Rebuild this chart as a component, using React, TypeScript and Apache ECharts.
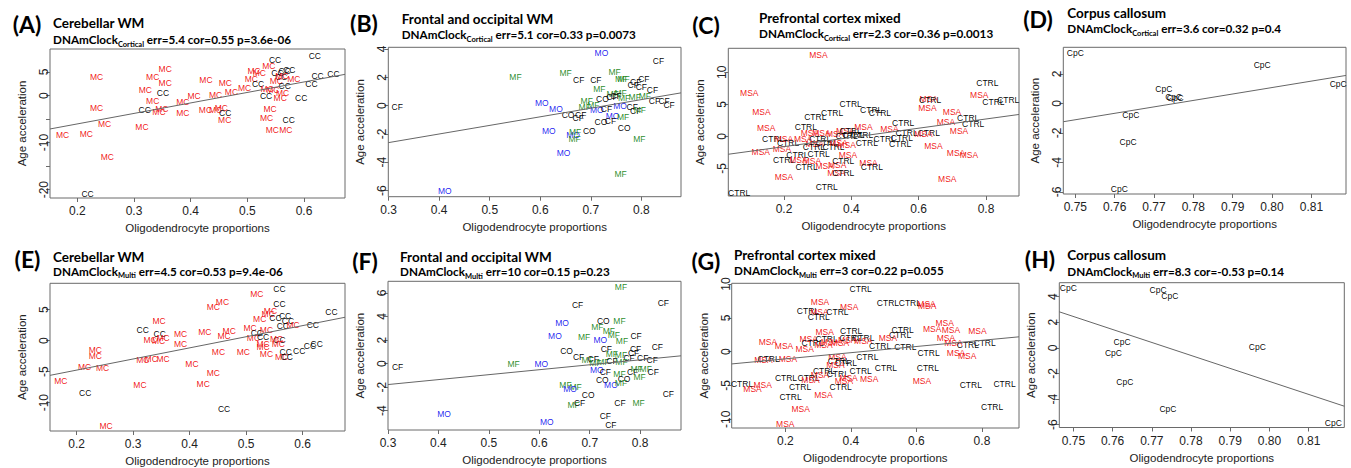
import { useEffect, useRef } from "react";
import * as echarts from "echarts";

// ---------------- Panel A: Cerebellar WM (Cortical clock) ----------------
const aLab = [
  "MC","MC","MC","MC","MC","MC","CC","MC","MC","MC",
  "MC","MC","CC","MC","CC","MC","MC","MC","MC","MC",
  "MC","MC","MC","MC","CC","MC","MC","MC","MC","MC",
  "MC","MC","MC","CC","MC","CC","CC","CC","CC","CC",
  "MC","MC","MC","CC","MC","MC","MC","MC","CC","MC",
  "MC","CC","MC","MC","CC","CC","CC","CC","CC"];
const aX = [
  .234,.174,.216,.234,.248,.253,.218,.314,.320,.333,
  .355,.355,.351,.333,.319,.349,.344,.386,.406,.386,
  .427,.426,.444,.454,.461,.444,.461,.460,.472,.495,
  .512,.521,.507,.519,.538,.549,.553,.574,.566,.560,
  .551,.535,.545,.533,.540,.534,.544,.568,.573,.558,
  .562,.566,.561,.582,.595,.619,.624,.613,.652];
const aY = [
  3.9,-8.4,-8.2,-2.7,-6.1,-13.0,-20.9,-6.6,1.2,4.0,
  5.7,2.6,0.5,-1.1,-3.0,-2.8,-3.6,-1.3,-0.1,-3.8,
  3.3,-3.0,-3.0,-2.7,-3.8,0.1,2.6,-5.2,0.8,1.5,
  5.2,4.8,3.5,2.5,6.2,7.5,4.8,5.5,5.3,4.0,
  3.0,1.4,1.2,-0.1,-2.8,-4.8,-7.4,-7.4,-5.3,-0.6,
  0.6,2.1,4.2,3.6,-0.6,8.4,4.2,2.5,4.6];

// ---------------- Panel B: Frontal and occipital WM (Cortical) ----------------
const bLab = [
  "MO","CF","MF","MF","CF","CF","MF","MF","MF","CF",
  "CF","CF","CF","CF","MF","MF","MF","CF","MF","MF",
  "MF","CF","CF","CF","CF","MO","MO","MF","MF","CO",
  "CF","MF","MO","CF","MO","CF","CF","MF","CO","CF",
  "CF","MO","MF","CO","CF","CO","CO","MO","MO","MF",
  "MF","MF","MO","MF","MO"];
const bX = [
  .721,.834,.551,.650,.676,.710,.747,.760,.765,.784,
  .805,.789,.800,.822,.717,.743,.759,.750,.766,.787,
  .807,.826,.845,.855,.317,.603,.631,.692,.688,.723,
  .742,.705,.712,.731,.758,.782,.789,.797,.655,.680,
  .675,.743,.764,.720,.739,.766,.697,.617,.665,.669,
  .668,.796,.646,.759,.411];
const bY = [
  3.74,3.13,2.02,2.28,1.81,1.81,2.38,1.90,1.88,1.44,
  1.90,1.67,1.29,1.10,1.15,0.82,0.92,0.68,0.54,0.64,
  0.68,0.33,0.35,0.07,-0.12,0.16,-0.21,0.33,-0.07,0.49,
  0.62,0.02,-0.31,-0.26,-0.02,-0.07,-0.40,-0.33,-0.68,-0.68,
  -0.87,-0.73,-0.78,-1.15,-1.06,-1.55,-1.79,-1.79,-2.05,-1.86,
  -2.38,-2.33,-3.32,-4.82,-6.05];

// ---------------- Panel C: Prefrontal cortex mixed (Cortical) ----------------
const cLab = [
  "MSA","MSA","MSA","MSA","MSA","CTRL","CTRL","MSA","CTRL","MSA",
  "CTRL","MSA","CTRL","MSA","CTRL","CTRL","CTRL","MSA","MSA","MSA",
  "CTRL","CTRL","MSA","CTRL","CTRL","MSA","MSA","MSA","MSA","CTRL",
  "CTRL","CTRL","MSA","CTRL","CTRL","CTRL","MSA","CTRL","MSA","MSA",
  "CTRL","MSA","CTRL","MSA","CTRL","MSA","CTRL","CTRL","CTRL","CTRL",
  "MSA","CTRL","CTRL","CTRL","CTRL","CTRL","MSA","CTRL","MSA","CTRL",
  "MSA","MSA","MSA","MSA","MSA","CTRL","CTRL","MSA","MSA","MSA",
  "CTRL","MSA","CTRL","CTRL"];
const cX = [
  .302,.097,.133,.147,.131,.067,.168,.200,.212,.194,
  .200,.200,.240,.243,.265,.293,.343,.257,.277,.311,
  .307,.327,.291,.289,.347,.352,.362,.386,.382,.398,
  .406,.386,.436,.432,.446,.303,.283,.267,.321,.358,
  .376,.390,.327,.356,.376,.451,.461,.398,.459,.485,
  .513,.554,.564,.499,.550,.545,.630,.634,.626,.630,
  .614,.644,.699,.681,.720,.747,.762,.685,.711,.749,
  .804,.780,.822,.866];
const cY = [
  12.7,6.8,3.75,1.3,-2.4,-8.8,-0.47,-0.47,-1.1,-2.0,
  -3.7,-6.3,-2.86,-3.7,1.4,2.97,3.6,-0.47,0.47,0.57,
  -0.47,-1.0,-1.2,-1.7,-1.6,0.36,-1.1,-1.3,0.78,0.78,
  0.26,0.05,1.5,0.2,-1.1,-2.76,-3.9,-4.74,-4.6,-4.4,
  -3.85,-2.86,-7.86,-5.7,-5.8,-4.2,-4.74,5.05,4.1,3.6,
  1.2,2.1,0.57,-0.36,-0.26,-1.2,5.9,5.6,4.5,0.57,
  0.36,-1.5,3.8,2.3,0.78,2.86,1.9,-6.7,-2.66,-2.97,
  8.3,6.46,5.36,5.7];

// ---------------- Panel D: Corpus callosum (Cortical) ----------------
const dLab = ["CpC","CpC","CpC","CpC","CpC","CpC","CpC","CpC","CpC"];
const dX = [.7500,.7975,.8168,.7725,.7750,.7754,.7641,.7634,.7612];
const dY = [3.39,2.64,1.31,0.99,0.45,0.40,-0.79,-2.60,-5.79];

// ---------------- Panel E: Cerebellar WM (Multi clock) ----------------
const eLab = [
  "MC","MC","CC","MC","MC","MC","MC","MC","CC","MC",
  "MC","MC","MC","MC","MC","CC","MC","MC","MC","MC",
  "MC","MC","MC","MC","MC","MC","MC","MC","CC","MC",
  "MC","MC","CC","CC","MC","MC","MC","MC","MC","MC",
  "MC","MC","CC","CC","CC","CC","CC","CC","MC","CC",
  "MC","MC","CC","MC","CC","CC","CC","CC","CC","CC"];
const eX = [
  .172,.214,.215,.233,.233,.246,.252,.312,.317,.317,
  .332,.353,.346,.330,.345,.347,.353,.384,.384,.404,
  .427,.424,.442,.458,.451,.442,.461,.470,.461,.495,
  .507,.513,.519,.530,.519,.524,.539,.543,.536,.530,
  .530,.536,.559,.559,.552,.569,.574,.565,.583,.559,
  .554,.557,.570,.563,.572,.594,.613,.625,.618,.651];
const eY = [
  -6.5,-4.2,-8.5,-1.5,-2.4,-4.4,-13.8,-7.2,1.76,-3.1,
  -2.9,-3.0,3.1,0.16,-0.05,1.1,0.48,1.1,-0.6,-3.7,
  1.4,-7.0,5.4,6.2,-1.75,-5.2,0.8,1.54,-11.1,-1.86,
  1.97,0.48,1.2,0.6,7.6,3.46,4.3,4.8,1.75,-0.5,
  -1.0,-2.2,8.35,5.9,3.67,4.0,3.1,2.3,2.5,0.16,
  0.27,-0.6,-1.86,-2.6,-2.7,-1.65,-0.9,-0.5,2.6,4.7];

// ---------------- Panel F: Frontal and occipital WM (Multi) ----------------
const fLab = [
  "MF","CF","CF","MO","CO","MF","MF","MF","MO","MF",
  "MO","MF","MF","CF","CF","CO","CF","CF","CF","CF",
  "MF","CF","MF","MF","CF","MF","MF","CF","MF","CF",
  "CF","MF","MO","CF","MO","CF","MF","CF","MF","MF",
  "CF","MF","CO","CO","MO","MF","MF","MF","MO","CO",
  "CF","MF","CF","CF","MF","CF","CF","MO","MO"];
const fX = [
  .762,.676,.846,.645,.727,.759,.715,.738,.631,.689,
  .721,.748,.764,.792,.834,.654,.733,.791,.787,.678,
  .696,.707,.711,.727,.744,.744,.762,.778,.763,.805,
  .824,.549,.604,.319,.714,.731,.759,.785,.793,.811,
  .826,.799,.725,.768,.742,.762,.652,.672,.661,.697,
  .856,.668,.680,.760,.797,.731,.742,.411,.615];
const fY = [
  6.54,4.99,5.16,3.48,3.65,3.60,3.14,2.80,2.35,2.24,
  2.00,2.40,1.90,2.35,1.44,1.10,1.22,1.22,0.88,0.60,
  0.31,0.37,0.08,0.14,0.25,0.82,0.76,0.48,0.14,0.48,
  0.31,-0.03,-0.03,-0.31,-0.54,-0.71,-0.88,-0.71,-0.42,-0.42,
  -0.71,-1.16,-1.39,-1.33,-1.78,-1.67,-1.78,-2.01,-2.18,-2.69,
  -2.58,-3.54,-3.37,-3.37,-3.31,-4.45,-5.24,-4.28,-4.96];

// ---------------- Panel G: Prefrontal cortex mixed (Multi) ----------------
const gLab = [
  "CTRL","MSA","MSA","CTRL","CTRL","MSA","MSA","CTRL","MSA","CTRL",
  "CTRL","MSA","CTRL","CTRL","CTRL","MSA","MSA","MSA","MSA","CTRL",
  "CTRL","MSA","MSA","MSA","MSA","CTRL","CTRL","MSA","MSA","CTRL",
  "CTRL","MSA","CTRL","MSA","MSA","CTRL","CTRL","MSA","CTRL","CTRL",
  "CTRL","CTRL","CTRL","CTRL","MSA","CTRL","CTRL","MSA","CTRL","MSA",
  "MSA","MSA","CTRL","MSA","MSA","CTRL","CTRL","MSA","CTRL","MSA",
  "MSA","MSA","MSA","MSA","MSA","MSA","MSA","MSA","CTRL","CTRL",
  "MSA","MSA","CTRL","CTRL","CTRL"];
const gX = [
  .430,.306,.395,.513,.580,.631,.633,.269,.304,.359,
  .302,.320,.401,.558,.550,.147,.196,.259,.271,.283,
  .326,.316,.336,.367,.389,.399,.438,.438,.513,.489,
  .566,.133,.149,.208,.359,.363,.385,.353,.450,.637,
  .635,.507,.430,.318,.306,.360,.271,.277,.202,.393,
  .379,.456,.068,.131,.100,.245,.369,.316,.216,.247,
  .200,.617,.686,.648,.705,.690,.713,.786,.757,.808,
  .721,.755,.766,.869,.831];
const gY = [
  9.2,7.4,6.65,7.2,7.2,7.1,6.75,6.06,5.86,5.86,
  5.17,2.9,3.05,3.2,2.5,1.38,0.84,0.44,1.8,1.33,
  1.92,0.94,1.43,1.23,1.72,2.0,2.0,1.63,2.0,0.84,
  0.74,-1.23,-1.13,-1.13,-0.74,-1.33,-1.72,-1.92,-0.84,-0.15,
  -2.41,-2.41,-2.9,-2.8,-3.5,-3.3,-3.9,-4.2,-3.9,-3.9,
  -4.3,-4.0,-4.8,-4.9,-5.57,-5.27,-5.27,-6.35,-6.65,-8.4,
  -10.7,-4.3,4.3,3.35,3.15,2.0,1.33,3.1,0.94,1.33,
  -0.15,-0.64,-4.97,-4.78,-8.2];

// ---------------- Panel H: Corpus callosum (Multi) ----------------
const hLab = ["CpC","CpC","CpC","CpC","CpC","CpC","CpC","CpC","CpC"];
const hX = [.7487,.7716,.7746,.7624,.7602,.7631,.7741,.7969,.8163];
const hY = [4.69,4.50,4.09,0.44,-0.44,-2.70,-4.80,0.05,-5.90];

// ---------------- regression lines: [intercept, slope] ----------------
const regA = [-10.49, 22.3];
const regB = [-4.43, 6.07];
const regC = [-3.05, 7.2];
const regD = [-33.88, 43.7];
const regE = [-8.34, 17.95];
const regF = [-3.04, 4.2];
const regG = [-1.98, 4.57];
const regH = [78.5, -101.4];

// ---------------- ticks ----------------
const xTicksAE = [0.2, 0.3, 0.4, 0.5, 0.6];
const xTicksBF = [0.3, 0.4, 0.5, 0.6, 0.7, 0.8];
const xTicksCG = [0.2, 0.4, 0.6, 0.8];
const xTicksDH = [0.75, 0.76, 0.77, 0.78, 0.79, 0.80, 0.81];
const yTicksA = [5, 0, -5, -10, -15, -20];
const yLabelsA = [5, 0, -10, -20];
const yTicksB = [4, 2, 0, -2, -4, -6];
const yTicksC = [10, 5, 0, -5];
const yTicksD = [2, 0, -2, -4, -6];
const yTicksE = [5, 0, -5, -10];
const yTicksF = [6, 4, 2, 0, -2, -4];
const yTicksG = [10, 5, 0, -5, -10];
const yTicksH = [4, 2, 0, -2, -4, -6];

// ---------------- titles ----------------
const letters = ["(A)", "(B)", "(C)", "(D)", "(E)", "(F)", "(G)", "(H)"];
const tissues = ["Cerebellar WM", "Frontal and occipital WM", "Prefrontal cortex mixed", "Corpus callosum",
  "Cerebellar WM", "Frontal and occipital WM", "Prefrontal cortex mixed", "Corpus callosum"];
const clocks = ["Cortical", "Cortical", "Cortical", "Cortical", "Multi", "Multi", "Multi", "Multi"];
const stats = [" err=5.4 cor=0.55 p=3.6e-06", " err=5.1 cor=0.33 p=0.0073", " err=2.3 cor=0.36 p=0.0013",
  " err=3.6 cor=0.32 p=0.4", " err=4.5 cor=0.53 p=9.4e-06", " err=10 cor=0.15 p=0.23",
  " err=3 cor=0.22 p=0.055", " err=8.3 cor=-0.53 p=0.14"];

const RED = "#f01010";
const BLUE = "#1a1af0";
const GREEN = "#268a26";
const BLACK = "#000000";
const colorOf = (s: string) =>
  s === "MC" || s === "MSA" ? RED : s === "MO" ? BLUE : s === "MF" ? GREEN : BLACK;

// layout: plot boxes [left, top, right, bottom], axis ranges
const panels = [
  { lab: aLab, xs: aX, ys: aY, reg: regA, box: [50, 49, 345, 198], xr: [0.1518, 0.6723], yr: [-21.77, 9.89], xt: xTicksAE, yt: yTicksA, yl: yLabelsA, dec: 1,
    letter: [27, 24], title: [53, 23], sub: [53, 39] },
  { lab: bLab, xs: bX, ys: bY, reg: regB, box: [388.3, 47.3, 681, 196.7], xr: [0.2993, 0.8785], yr: [-6.43, 4.12], xt: xTicksBF, yt: yTicksB, yl: yTicksB, dec: 1,
    letter: [364, 23], title: [401.7, 19], sub: [401.7, 34] },
  { lab: cLab, xs: cX, ys: cY, reg: regC, box: [728.3, 48.3, 1019, 196], xr: [0.0346, 0.898], yr: [-9.32, 13.75], xt: xTicksCG, yt: yTicksC, yl: yTicksC, dec: 1,
    letter: [706, 25], title: [759, 18.3], sub: [759, 33.3] },
  { lab: dLab, xs: dX, ys: dY, reg: regD, box: [1063.3, 47.3, 1346, 194], xr: [0.74695, 0.8188], yr: [-6.14, 3.81], xt: xTicksDH, yt: yTicksD, yl: yTicksD, dec: 2,
    letter: [1038, 19], title: [1067.3, 13.3], sub: [1067.3, 28.3] },
  { lab: eLab, xs: eX, ys: eY, reg: regE, box: [50, 283.3, 345, 432.7], xr: [0.1528, 0.675], yr: [-14.58, 9.26], xt: xTicksAE, yt: yTicksE, yl: yTicksE, dec: 1,
    letter: [27.5, 259], title: [53, 256.7], sub: [53, 270.7] },
  { lab: fLab, xs: fX, ys: fY, reg: regF, box: [388, 281.3, 681, 430], xr: [0.3, 0.881], yr: [-5.64, 6.99], xt: xTicksBF, yt: yTicksF, yl: yTicksF, dec: 1,
    letter: [365, 260.7], title: [400, 256.7], sub: [400, 271.3] },
  { lab: gLab, xs: gX, ys: gY, reg: regG, box: [731.7, 283.3, 1019, 428], xr: [0.0364, 0.913], yr: [-11.28, 10.1], xt: xTicksCG, yt: yTicksG, yl: yTicksG, dec: 1,
    letter: [706, 260.7], title: [734, 254.7], sub: [734, 270] },
  { lab: hLab, xs: hX, ys: hY, reg: regH, box: [1059.3, 282.7, 1344.3, 427.5], xr: [0.7464, 0.8191], yr: [-6.22, 5.09], xt: xTicksDH, yt: yTicksH, yl: yTicksH, dec: 2,
    letter: [1040, 259], title: [1067.3, 254.7], sub: [1067.3, 270.7] },
];

const AXIS_FONT = "'Liberation Sans', Arial, sans-serif";
const TITLE_FONT = "Lato, 'Open Sans', sans-serif";

function buildOption() {
  const grid: any[] = [];
  const xAxis: any[] = [];
  const yAxis: any[] = [];
  const series: any[] = [];
  const graphic: any[] = [];

  panels.forEach((p, i) => {
    const [l, t, r, b] = p.box;
    grid.push({
      left: l, top: t, width: r - l, height: b - t,
      show: true, borderColor: "#6a6a6a", borderWidth: 1, backgroundColor: "transparent",
    });
    xAxis.push({
      gridIndex: i, type: "value", min: p.xr[0], max: p.xr[1],
      name: "Oligodendrocyte proportions", nameLocation: "middle", nameGap: 24, nameMoveOverlap: false,
      nameTextStyle: { fontFamily: AXIS_FONT, fontSize: 11.5, color: "#222" },
      axisLine: { show: false, onZero: false },
      axisTick: { show: true, length: 4, customValues: p.xt, lineStyle: { color: "#6a6a6a" } },
      axisLabel: {
        customValues: p.xt, margin: 7, fontFamily: AXIS_FONT, fontSize: 12, color: "#222",
        formatter: (v: number) => v.toFixed(p.dec),
      },
      splitLine: { show: false },
    });
    yAxis.push({
      gridIndex: i, type: "value", min: p.yr[0], max: p.yr[1],
      name: "Age acceleration", nameLocation: "middle", nameGap: 22, nameMoveOverlap: false,
      nameTextStyle: { fontFamily: AXIS_FONT, fontSize: 11.5, color: "#222" },
      axisLine: { show: false, onZero: false },
      axisTick: { show: true, length: 4, customValues: p.yt, lineStyle: { color: "#6a6a6a" } },
      axisLabel: {
        customValues: p.yl, rotate: 90, margin: 0, fontFamily: AXIS_FONT, fontSize: 12, color: "#222",
        formatter: (v: number) => String(v),
      },
      splitLine: { show: false },
    });
    series.push({
      type: "scatter", xAxisIndex: i, yAxisIndex: i, silent: true,
      symbolSize: 1, itemStyle: { color: "rgba(0,0,0,0)" },
      label: {
        show: true, position: ["50%", "50%"], align: "center", verticalAlign: "middle",
        formatter: "{b}", fontFamily: AXIS_FONT, fontSize: 8.5, opacity: 0.99,
        textBorderWidth: 0, textShadowBlur: 0,
      },
      data: p.lab.map((s, k) => ({
        name: s, value: [p.xs[k], p.ys[k]],
        label: { color: colorOf(s) },
      })),
    });
    const [a, sl] = p.reg;
    series.push({
      type: "line", xAxisIndex: i, yAxisIndex: i, silent: true, symbol: "none",
      lineStyle: { color: "#666", width: 1 },
      data: [[p.xr[0], a + sl * p.xr[0]], [p.xr[1], a + sl * p.xr[1]]],
    });

    graphic.push({
      type: "text", x: p.letter[0], y: p.letter[1], silent: true,
      style: { text: letters[i], fontFamily: TITLE_FONT, fontWeight: "bold", fontSize: 23, fill: "#000",
        align: "center", verticalAlign: "middle", textAlign: "center", textVerticalAlign: "middle" },
    });
    graphic.push({
      type: "text", x: p.title[0], y: p.title[1], silent: true,
      style: { text: tissues[i], fontFamily: TITLE_FONT, fontWeight: "bold", fontSize: 13.5, fill: "#000",
        align: "left", verticalAlign: "middle", textAlign: "left", textVerticalAlign: "middle" },
    });
    graphic.push({
      type: "text", x: p.sub[0], y: p.sub[1], silent: true,
      style: {
        text: `{m|DNAmClock}{s|${clocks[i]}}{m|${stats[i]}}`,
        align: "left", verticalAlign: "middle", textAlign: "left", textVerticalAlign: "middle",
        rich: {
          m: { fontFamily: TITLE_FONT, fontWeight: "bold", fontSize: 11.7, fill: "#000", color: "#000", lineHeight: 18, verticalAlign: "middle" },
          s: { fontFamily: TITLE_FONT, fontWeight: "bold", fontSize: 7.5, fill: "#000", color: "#000", lineHeight: 8, verticalAlign: "bottom" },
        },
      },
    });
  });

  return { animation: false, backgroundColor: "#fff", grid, xAxis, yAxis, series, graphic };
}

export default function App() {
  const ref = useRef<HTMLDivElement>(null);
  useEffect(() => {
    if (!ref.current) return;
    const chart = echarts.init(ref.current, undefined, { renderer: "svg" });
    chart.setOption(buildOption() as any);
    return () => chart.dispose();
  }, []);
  return (
    <div
      ref={ref}
      style={{ position: "fixed", left: 0, top: 0, width: 1351, height: 468, background: "#fff" }}
    />
  );
}
